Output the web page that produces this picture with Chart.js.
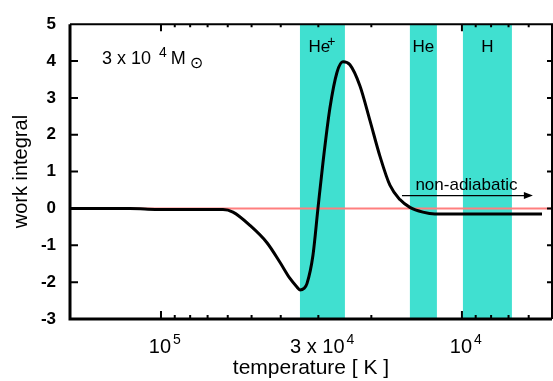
<!DOCTYPE html>
<html>
<head>
<meta charset="utf-8">
<script src="https://cdn.jsdelivr.net/npm/chart.js@4"></script>
<style>
  html, body { margin: 0; padding: 0; background: #fff; }
  #wrap { width: 553px; height: 381px; position: relative; }
</style>
</head>
<body>
<div id="wrap"><canvas id="workChart"></canvas></div>
<script>
// temperature [K] along the model (axis runs hot -> cool, left to right)
const temperature = [200000, 159500, 126800, 110500, 86500, 68760, 62230, 57660, 50620, 44440,
  40250, 37270, 35340, 34530, 33490, 32730, 31260, 30090, 28960,
  27450, 26020, 24850, 23560, 21830, 20220, 18730, 17350, 16070, 14890,
  13480, 12290, 10150, 7480, 5420];
const workIntegral = [0, 0, 0, -0.02, -0.03, -0.03, -0.03, -0.10, -0.46, -0.93,
  -1.46, -1.90, -2.13, -2.21, -2.17, -2.04, -1.27, 0.0, 1.24,
  2.73, 3.69, 3.98, 3.90, 3.33, 2.39, 1.42, 0.63, 0.24, 0.03,
  -0.10, -0.15, -0.15, -0.15, -0.15];

// axis limits and ticks
const tempMax = 200600;
const tempMin = 5020;
const xMajorTicks = [1e5, 3e4, 1e4];
const xTickBase = ['10', '3 x 10', '10'];
const xTickExp = ['5', '4', '4'];
const xMinorTicks = [9e4, 8e4, 7e4, 6e4, 5e4, 4e4, 2e4, 9e3, 8e3, 7e3, 6e3];
const yTickValues = [-3, -2, -1, 0, 1, 2, 3, 4, 5];

// ionisation zones (hot edge, cool edge)
const bandLabels = ['He', 'He', 'H'];
const bandSup = ['+', '', ''];
const bandHot = [34530, 14890, 9924];
const bandCool = [24480, 12110, 6822];

const FONT = '"Liberation Sans", Arial, sans-serif';

const overlays = {
  id: 'overlays',
  beforeDatasetsDraw(chart) {
    const { ctx, chartArea: a, scales: { x } } = chart;
    ctx.save();
    ctx.fillStyle = '#40e0d0';
    bandHot.forEach((t, i) => {
      const x1 = x.getPixelForValue(t);
      const x2 = x.getPixelForValue(bandCool[i]);
      ctx.fillRect(x1, a.top, x2 - x1, a.bottom - a.top);
    });
    ctx.restore();
  },
  afterDatasetsDraw(chart) {
    const { ctx, chartArea: a, scales: { x, y } } = chart;
    ctx.save();
    ctx.strokeStyle = '#000';
    ctx.fillStyle = '#000';

    // inward tick marks
    ctx.lineWidth = 2;
    ctx.beginPath();
    y.ticks.forEach(t => {
      if (t.value <= y.min || t.value >= y.max) return;
      const py = y.getPixelForValue(t.value);
      ctx.moveTo(a.left, py); ctx.lineTo(a.left + 8, py);
      ctx.moveTo(a.right, py); ctx.lineTo(a.right - 5, py);
    });
    x.ticks.forEach(t => {
      const px = x.getPixelForValue(t.value);
      const decade = t.value === 1e5 || t.value === 1e4;
      const len = decade ? 8 : 4;
      ctx.moveTo(px, a.bottom); ctx.lineTo(px, a.bottom - len);
      ctx.moveTo(px, a.top); ctx.lineTo(px, a.top + len - 1);
    });
    ctx.stroke();

    // frame
    ctx.lineWidth = 3;
    ctx.beginPath();
    ctx.moveTo(a.left, a.top); ctx.lineTo(a.left, a.bottom); ctx.lineTo(a.right, a.bottom);
    ctx.stroke();
    ctx.lineWidth = 2;
    ctx.beginPath();
    ctx.moveTo(a.left, a.top); ctx.lineTo(a.right, a.top); ctx.lineTo(a.right, a.bottom);
    ctx.stroke();

    // x tick labels with exponents
    ctx.textBaseline = 'alphabetic';
    xMajorTicks.forEach((t, i) => {
      const px = x.getPixelForValue(t);
      ctx.font = '20px ' + FONT;
      ctx.textAlign = 'center';
      ctx.fillText(xTickBase[i], px - 1, a.bottom + 34);
      const w = ctx.measureText(xTickBase[i]).width;
      ctx.font = '14px ' + FONT;
      ctx.textAlign = 'left';
      ctx.fillText(xTickExp[i], px - 1 + w / 2 + 2, a.bottom + 25);
    });

    // zone labels
    bandLabels.forEach((lab, i) => {
      const cx = (x.getPixelForValue(bandHot[i]) + x.getPixelForValue(bandCool[i])) / 2;
      ctx.font = '17px ' + FONT;
      ctx.textAlign = 'center';
      const off = bandSup[i] ? -3 : 0;
      ctx.fillText(lab, cx + off, a.top + 28);
      if (bandSup[i]) {
        const w = ctx.measureText(lab).width;
        ctx.font = '14px ' + FONT;
        ctx.textAlign = 'left';
        ctx.fillText(bandSup[i], cx + off + w / 2 - 3, a.top + 22);
      }
    });

    // mass label
    let lx = a.left + 32;
    const by = a.top + 40;
    ctx.textAlign = 'left';
    ctx.font = '18px ' + FONT;
    ctx.fillText('3 x 10', lx, by);
    lx += ctx.measureText('3 x 10').width + 8;
    ctx.font = '14px ' + FONT;
    ctx.fillText('4', lx, by - 7);
    lx += ctx.measureText('4').width + 4;
    ctx.font = '18px ' + FONT;
    ctx.fillText('M', lx, by);
    lx += ctx.measureText('M').width + 4;
    ctx.font = '16px "DejaVu Sans", sans-serif';
    ctx.fillText('\u2299', lx, by + 4);

    // non-adiabatic arrow
    const ax1 = x.getPixelForValue(15820);
    const ax2 = x.getPixelForValue(5810);
    const ay = y.getPixelForValue(0.35);
    ctx.lineWidth = 1.3;
    ctx.beginPath();
    ctx.moveTo(ax1, ay); ctx.lineTo(ax2 - 6, ay);
    ctx.stroke();
    ctx.beginPath();
    ctx.moveTo(ax2, ay); ctx.lineTo(ax2 - 9, ay - 3.5); ctx.lineTo(ax2 - 9, ay + 3.5);
    ctx.closePath();
    ctx.fill();
    ctx.font = '17px ' + FONT;
    ctx.textAlign = 'center';
    ctx.fillText('non-adiabatic', x.getPixelForValue(9660), y.getPixelForValue(0.5));
    ctx.restore();
  }
};

new Chart(document.getElementById('workChart'), {
  type: 'line',
  data: {
    datasets: [
      {
        label: 'work integral',
        data: temperature.map((t, i) => ({ x: t, y: workIntegral[i] })),
        borderColor: '#000',
        borderWidth: 3,
        pointRadius: 0,
        cubicInterpolationMode: 'monotone',
        fill: false
      },
      {
        label: 'zero',
        data: [{ x: tempMax, y: 0 }, { x: tempMin, y: 0 }],
        borderColor: '#ff7f7f',
        borderWidth: 2,
        pointRadius: 0,
        fill: false
      }
    ]
  },
  options: {
    responsive: true,
    maintainAspectRatio: false,
    animation: false,
    layout: { padding: { top: 13, right: 1, left: 0, bottom: 0 } },
    plugins: {
      legend: { display: false },
      tooltip: { enabled: false }
    },
    scales: {
      x: {
        type: 'logarithmic',
        reverse: true,
        min: tempMin,
        max: tempMax,
        afterBuildTicks: scale => {
          scale.ticks = [...xMajorTicks, ...xMinorTicks].map(v => ({ value: v }));
        },
        afterFit: scale => { scale.height = 62; },
        ticks: { display: false },
        grid: { display: false, drawTicks: false },
        border: { display: false },
        title: {
          display: true,
          text: 'temperature [ K ]',
          color: '#000',
          font: { family: FONT, size: 21 },
          padding: { top: 0, bottom: 0 }
        }
      },
      y: {
        type: 'linear',
        min: -3,
        max: 5,
        afterBuildTicks: scale => {
          scale.ticks = yTickValues.map(v => ({ value: v }));
        },
        afterFit: scale => { scale.width = 70; },
        ticks: {
          color: '#000',
          padding: 14,
          font: { family: FONT, size: 17, weight: 'bold' }
        },
        grid: { display: false, drawTicks: false },
        border: { display: false },
        title: {
          display: true,
          text: 'work integral',
          color: '#000',
          font: { family: FONT, size: 20 },
          padding: { top: 9, bottom: 0 }
        }
      }
    }
  },
  plugins: [overlays]
});
</script>
</body>
</html>
